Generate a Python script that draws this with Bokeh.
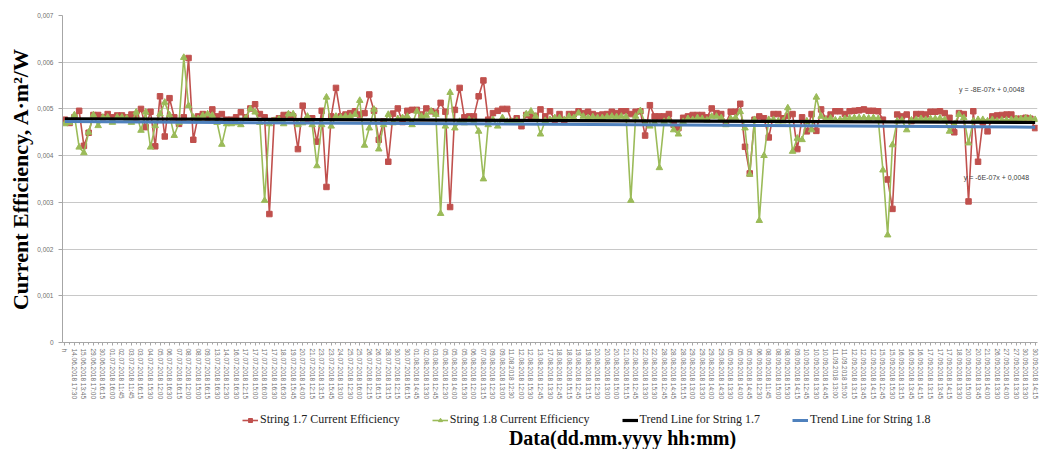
from bokeh.plotting import figure
from bokeh.layouts import column
from bokeh.models import (FixedTicker, CustomJSTickFormatter, Legend, LegendItem,
                          Label, Range1d)
from bokeh.embed import file_html
from bokeh.resources import INLINE

labels = [
    "h", "14.06.2018 17:30", "15.06.2018 13:45", "29.06.2018 17:00", "30.06.2018 16:15",
    "01.07.2018 16:00", "02.07.2018 11:45", "03.07.2018 11:45", "03.07.2018 16:15",
    "04.07.2018 15:30", "05.07.2018 12:00", "06.07.2018 16:30", "07.07.2018 16:15",
    "08.07.2018 12:00", "08.07.2018 15:00", "09.07.2018 16:15", "13.07.2018 16:30",
    "14.07.2018 12:30", "16.07.2018 16:30", "17.07.2018 12:15", "17.07.2018 15:00",
    "17.07.2018 16:00", "17.07.2018 16:30", "18.07.2018 16:30", "19.07.2018 15:45",
    "20.07.2018 14:00", "21.07.2018 12:15", "23.07.2018 13:15", "23.07.2018 15:45",
    "24.07.2018 13:00", "25.07.2018 12:30", "25.07.2018 16:00", "26.07.2018 12:15",
    "26.07.2018 16:15", "28.07.2018 13:15", "30.07.2018 12:15", "30.07.2018 16:15",
    "01.08.2018 14:45", "02.08.2018 13:30", "03.08.2018 12:45", "05.08.2018 12:30",
    "05.08.2018 14:00", "05.08.2018 15:30", "06.08.2018 12:00", "07.08.2018 13:15",
    "09.08.2018 12:30", "09.08.2018 13:00", "11.08.2018 12:30", "12.08.2018 12:00",
    "12.08.2018 15:30", "13.08.2018 12:45", "17.08.2018 13:30", "18.08.2018 12:45",
    "18.08.2018 15:15", "19.08.2018 12:45", "19.08.2018 13:15", "20.08.2018 12:30",
    "20.08.2018 13:00", "20.08.2018 15:00", "21.08.2018 15:15", "22.08.2018 12:45",
    "22.08.2018 13:30", "22.08.2018 15:30", "28.08.2018 12:45", "28.08.2018 14:45",
    "28.08.2018 15:15", "29.08.2018 13:00", "29.08.2018 13:30", "29.08.2018 14:00",
    "29.08.2018 14:30", "05.09.2018 13:30", "05.09.2018 14:00", "05.09.2018 14:45",
    "06.09.2018 12:30", "08.09.2018 11:45", "08.09.2018 15:00", "08.09.2018 15:30",
    "09.09.2018 14:15", "10.09.2018 12:45", "10.09.2018 13:30", "10.09.2018 14:45",
    "11.09.2018 13:00", "11.09.2018 15:00", "12.09.2018 13:15", "12.09.2018 13:45",
    "12.09.2018 14:15", "15.09.2018 12:45", "15.09.2018 15:30", "16.09.2018 13:15",
    "16.09.2018 13:45", "16.09.2018 14:15", "17.09.2018 13:15", "17.09.2018 13:45",
    "17.09.2018 14:15", "18.09.2018 13:30", "20.09.2018 15:00", "20.09.2018 13:45",
    "21.09.2018 14:00", "26.09.2018 13:30", "27.09.2018 14:00", "27.09.2018 13:30",
    "30.09.2018 13:30", "30.09.2018 14:15",
]

string17 = [
    0.00477, 0.00470, 0.00482, 0.00496, 0.00421, 0.00449, 0.00487, 0.00487, 0.00482, 0.00489,
    0.00482, 0.00486, 0.00486, 0.00482, 0.00488, 0.00480, 0.00500, 0.00461, 0.00494, 0.00420,
    0.00527, 0.00441, 0.00523, 0.00482, 0.00468, 0.00482, 0.00609, 0.00434, 0.00484, 0.00489,
    0.00482, 0.00499, 0.00484, 0.00489, 0.00477, 0.00477, 0.00482, 0.00493, 0.00482, 0.00501,
    0.00510, 0.00489, 0.00482, 0.00275, 0.00475, 0.00480, 0.00487, 0.00487, 0.00484,
    0.00414, 0.00507, 0.00477, 0.00480, 0.00430, 0.00496, 0.00333, 0.00484, 0.00545, 0.00484,
    0.00488, 0.00491, 0.00495, 0.00488, 0.00491, 0.00531, 0.00496, 0.00434, 0.00473, 0.00387,
    0.00490, 0.00501, 0.00472, 0.00496, 0.00498, 0.00498, 0.00488, 0.00501, 0.00495, 0.00492,
    0.00513, 0.00494, 0.00290, 0.00498, 0.00545, 0.00482, 0.00484, 0.00484, 0.00527, 0.00561,
    0.00477, 0.00491, 0.00496, 0.00500, 0.00500, 0.00473, 0.00480, 0.00463, 0.00487, 0.00484,
    0.00485, 0.00499, 0.00484,
    0.00495, 0.00477, 0.00489, 0.00476, 0.00489, 0.00489, 0.00495, 0.00491,
    0.00494, 0.00489, 0.00486, 0.00488, 0.00489, 0.00494, 0.00491, 0.00495, 0.00495, 0.00489,
    0.00494, 0.00495, 0.00443, 0.00508, 0.00484, 0.00484, 0.00484, 0.00489, 0.00466, 0.00459,
    0.00481, 0.00484, 0.00487, 0.00487, 0.00487, 0.00482, 0.00501, 0.00491, 0.00489, 0.00470,
    0.00494, 0.00494, 0.00511, 0.00419, 0.00362, 0.00477, 0.00484, 0.00480, 0.00439, 0.00489,
    0.00489,
    0.00480, 0.00485, 0.00489, 0.00414, 0.00482, 0.00452, 0.00489, 0.00453, 0.00499,
    0.00479, 0.00488, 0.00495, 0.00495, 0.00489, 0.00495, 0.00496, 0.00497, 0.00499, 0.00496,
    0.00496, 0.00495, 0.00477, 0.00349, 0.00286, 0.00488, 0.00484, 0.00488, 0.00474, 0.00489,
    0.00489, 0.00488, 0.00494, 0.00494, 0.00495, 0.00491, 0.00481, 0.00450, 0.00491, 0.00489,
    0.00302, 0.00495, 0.00387, 0.00471, 0.00452, 0.00484, 0.00486, 0.00487, 0.00488, 0.00488,
    0.00479, 0.00479, 0.00481, 0.00479, 0.00459,
]

string18 = [
    0.00468, 0.00471, 0.00487, 0.00418, 0.00406, 0.00450, 0.00487, 0.00464, 0.00482, 0.00482,
    0.00471, 0.00482, 0.00482, 0.00480, 0.00471, 0.00493, 0.00454, 0.00493, 0.00418, 0.00464,
    0.00489, 0.00514, 0.00487, 0.00443, 0.00471, 0.00610, 0.00507, 0.00482, 0.00479, 0.00486,
    0.00489, 0.00486, 0.00471, 0.00424, 0.00468, 0.00468, 0.00470, 0.00466, 0.00480, 0.00500,
    0.00493, 0.00471, 0.00304, 0.00468, 0.00475, 0.00478, 0.00468, 0.00489, 0.00489,
    0.00466, 0.00470, 0.00484, 0.00466, 0.00378, 0.00466, 0.00525, 0.00463, 0.00484, 0.00482,
    0.00484, 0.00484, 0.00488, 0.00518, 0.00422, 0.00459, 0.00499, 0.00414, 0.00466, 0.00488,
    0.00470, 0.00479, 0.00481, 0.00484, 0.00466, 0.00495, 0.00484, 0.00486, 0.00495, 0.00488,
    0.00276, 0.00463, 0.00535, 0.00459, 0.00473, 0.00470, 0.00477, 0.00473, 0.00452, 0.00350,
    0.00466, 0.00477, 0.00463, 0.00481, 0.00473, 0.00473, 0.00475, 0.00470, 0.00489, 0.00495,
    0.00484, 0.00446, 0.00475,
    0.00477, 0.00481, 0.00481, 0.00477, 0.00484, 0.00481, 0.00491, 0.00484,
    0.00481, 0.00483, 0.00481, 0.00481, 0.00483, 0.00484, 0.00483, 0.00484, 0.00483, 0.00304,
    0.00484, 0.00496, 0.00470, 0.00463, 0.00470, 0.00374, 0.00473, 0.00477, 0.00455, 0.00446,
    0.00473, 0.00479, 0.00477, 0.00481, 0.00479, 0.00476, 0.00484, 0.00484, 0.00481, 0.00466,
    0.00479, 0.00481, 0.00494, 0.00459, 0.00360, 0.00477, 0.00261, 0.00400, 0.00477, 0.00477,
    0.00474,
    0.00474, 0.00502, 0.00409, 0.00437, 0.00434, 0.00474, 0.00455, 0.00525, 0.00484,
    0.00477, 0.00480, 0.00476, 0.00477, 0.00479, 0.00480, 0.00481, 0.00481, 0.00481, 0.00480,
    0.00481, 0.00479, 0.00369, 0.00230, 0.00423, 0.00474, 0.00476, 0.00455, 0.00476, 0.00477,
    0.00479, 0.00477, 0.00479, 0.00479, 0.00480, 0.00477, 0.00452, 0.00467, 0.00488, 0.00481,
    0.00427, 0.00474, 0.00477, 0.00477, 0.00474, 0.00477, 0.00474, 0.00476, 0.00476, 0.00477,
    0.00479, 0.00479, 0.00480, 0.00480, 0.00477,
]

trend17 = [0.00479, 0.00471]   # start / end of the String 1.7 trend line
trend18 = [0.00473, 0.00461]   # start / end of the String 1.8 trend line
eq17 = "y = -8E-07x + 0,0048"
eq18 = "y = -6E-07x + 0,0048"
x_title = "Data(dd.mm.yyyy hh:mm)"
y_title = "Current Efficiency, A·m²/W"
series_names = ["String 1.7 Current Efficiency", "String 1.8 Current Efficiency",
                "Trend Line for String 1.7", "Trend Line for String 1.8"]

N = len(string17)
xs = list(range(N))
trend_x = [0, N - 1]

RED = "#C0504D"
GREEN = "#9BBB59"
BLUE = "#4F81BD"
W = 1040

p = figure(width=W, height=402, output_backend="svg", toolbar_location=None,
           x_range=Range1d(-0.5, N - 0.5), y_range=Range1d(0, 0.007),
           min_border_left=62, min_border_top=15, min_border_right=3, min_border_bottom=0)
p.outline_line_color = None
p.background_fill_color = "white"

# axes
p.xaxis.ticker = FixedTicker(ticks=list(range(0, N, 2)), minor_ticks=list(range(N)))
p.xaxis.formatter = CustomJSTickFormatter(args=dict(labels=labels),
                                          code="const k = Math.round(tick/2); return labels[k] || '';")
p.xaxis.major_label_orientation = "vertical"
p.xaxis.major_label_text_font = "Liberation Sans"
p.xaxis.major_label_text_font_size = "6.5px"
p.xaxis.major_label_text_color = "#6f6f6f"
p.xaxis.major_label_standoff = 3
p.xaxis.axis_line_color = "#A6A6A6"
p.xaxis.major_tick_line_color = "#A6A6A6"
p.xaxis.minor_tick_line_color = "#A6A6A6"
p.xaxis.major_tick_out = 3
p.xaxis.major_tick_in = 0
p.xaxis.minor_tick_out = 2
p.xaxis.minor_tick_in = 0
p.xgrid.grid_line_color = None

p.yaxis.ticker = FixedTicker(ticks=[0, 0.001, 0.002, 0.003, 0.004, 0.005, 0.006, 0.007])
p.yaxis.formatter = CustomJSTickFormatter(code="return tick == 0 ? '0' : tick.toFixed(3).replace('.', ',');")
p.yaxis.major_label_text_font = "Liberation Sans"
p.yaxis.major_label_text_font_size = "6.5px"
p.yaxis.major_label_text_color = "#6f6f6f"
p.yaxis.major_label_standoff = 5
p.yaxis.axis_line_color = "#A6A6A6"
p.yaxis.major_tick_line_color = "#A6A6A6"
p.yaxis.major_tick_out = 4
p.yaxis.major_tick_in = 0
p.yaxis.minor_tick_line_color = None
p.yaxis.axis_label = y_title
p.yaxis.axis_label_text_font = "Liberation Serif"
p.yaxis.axis_label_text_font_style = "bold"
p.yaxis.axis_label_text_font_size = "22px"
p.yaxis.axis_label_text_color = "black"
p.yaxis.axis_label_standoff = 1
p.ygrid.grid_line_color = "#C8C8C8"
p.ygrid.grid_line_width = 1

# series
line_w = 1.6
p.line(xs, string17, line_color=RED, line_width=line_w)
p.scatter(xs, string17, marker="square", size=5.5, fill_color=RED, line_color=RED)
p.line(xs, string18, line_color=GREEN, line_width=line_w)
p.scatter(xs, string18, marker="triangle", size=6.5, fill_color=GREEN, line_color=GREEN)
p.line(trend_x, trend17, line_color="black", line_width=3.2)
p.line(trend_x, trend18, line_color=BLUE, line_width=3)

p.add_layout(Label(x=N - 17, y=0.00542, text=eq17, text_font="Liberation Sans",
                   text_font_size="7px", text_color="#404040", text_baseline="middle"))
p.add_layout(Label(x=N - 16, y=0.00354, text=eq18, text_font="Liberation Sans",
                   text_font_size="7px", text_color="#404040", text_baseline="middle"))

# legend + x-axis title strip; its frame is aligned with the chart frame (starts at x=62)
q = figure(width=W, height=47, output_backend="svg", toolbar_location=None,
           x_axis_type=None, y_axis_type=None,
           x_range=Range1d(0, 1), y_range=Range1d(0, 1),
           min_border_left=0, min_border_right=0, min_border_top=0, min_border_bottom=0)
q.grid.visible = False
q.outline_line_color = None

# hidden stand-ins (placed outside the visible range) that only give the legend its swatches
off = [5, 6]
lr1 = q.line(off, off, line_color=RED, line_width=line_w)
ls1 = q.scatter(off, off, marker="square", size=5.5, fill_color=RED, line_color=RED)
lr2 = q.line(off, off, line_color=GREEN, line_width=line_w)
ls2 = q.scatter(off, off, marker="triangle", size=6.5, fill_color=GREEN, line_color=GREEN)
lr3 = q.line(off, off, line_color="black", line_width=3.2)
lr4 = q.line(off, off, line_color=BLUE, line_width=3)

legend = Legend(items=[
    LegendItem(label=series_names[0], renderers=[lr1, ls1]),
    LegendItem(label=series_names[1], renderers=[lr2, ls2]),
    LegendItem(label=series_names[2], renderers=[lr3]),
    LegendItem(label=series_names[3], renderers=[lr4]),
], orientation="horizontal", location=(180, 22), border_line_color=None,
    background_fill_alpha=0, label_text_font="Liberation Serif", label_text_font_size="12px",
    label_text_color="#222222", glyph_width=16, glyph_height=10, spacing=32, padding=0,
    margin=0, label_standoff=2, label_height=12)
q.add_layout(legend, "center")

q.add_layout(Label(x=560, y=1, x_units="screen", y_units="screen", text=x_title,
                   text_font="Liberation Serif", text_font_style="bold", text_font_size="20px",
                   text_color="black", text_align="center", text_baseline="bottom"))

open("out.html", "w").write(file_html(column(p, q, spacing=0), INLINE))
